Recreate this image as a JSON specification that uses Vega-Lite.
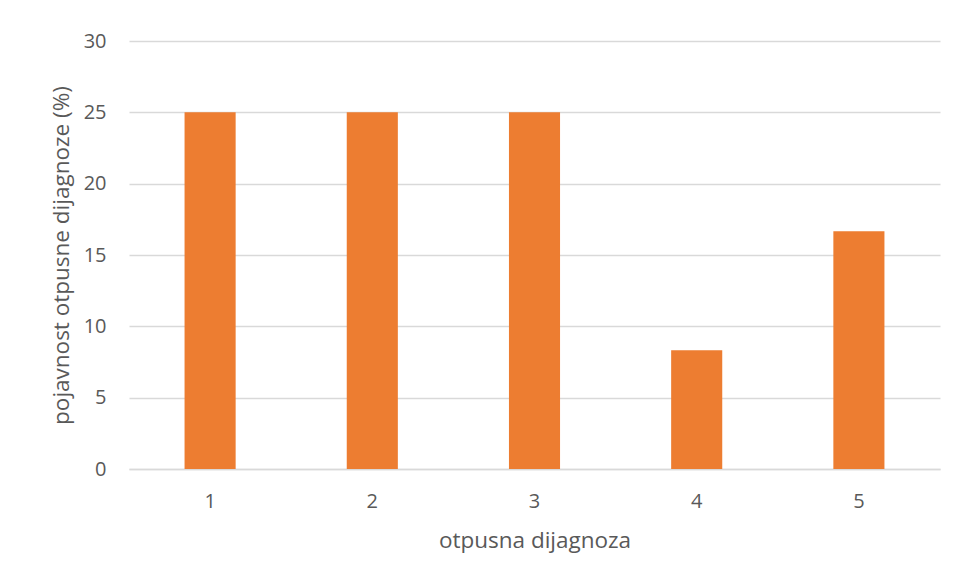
{
  "$schema": "https://vega.github.io/schema/vega-lite/v6.json",
  "autosize": "none",
  "width": 811,
  "height": 428,
  "padding": {"left": 129, "top": 41, "right": 16, "bottom": 111},
  "background": "white",
  "data": {"values": [
    {"dijagnoza": "1", "pojavnost": 25},
    {"dijagnoza": "2", "pojavnost": 25},
    {"dijagnoza": "3", "pojavnost": 25},
    {"dijagnoza": "4", "pojavnost": 8.33},
    {"dijagnoza": "5", "pojavnost": 16.67}
  ]},
  "mark": {"type": "bar", "color": "#ED7D31"},
  "encoding": {
    "x": {
      "field": "dijagnoza", "type": "ordinal", "sort": null,
      "scale": {"paddingInner": 0.685, "paddingOuter": 0.3425},
      "axis": {
        "title": "otpusna dijagnoza", "labelAngle": 0, "ticks": false,
        "domainColor": "#d9d9d9", "domainWidth": 1.5,
        "labelPadding": 22, "titlePadding": 18
      }
    },
    "y": {
      "field": "pojavnost", "type": "quantitative",
      "scale": {"domain": [0, 30]},
      "axis": {
        "title": "pojavnost otpusne dijagnoze (%)", "values": [0, 5, 10, 15, 20, 25, 30],
        "domain": false, "ticks": false, "labelPadding": 23, "titlePadding": 10,
        "gridColor": "#d9d9d9", "gridWidth": 1.5
      }
    }
  },
  "config": {
    "view": {"stroke": null},
    "axis": {
      "labelFont": "Open Sans", "titleFont": "Open Sans",
      "labelFontSize": 20, "titleFontSize": 22.5,
      "labelColor": "#595959", "titleColor": "#595959",
      "titleFontWeight": "normal"
    }
  }
}
